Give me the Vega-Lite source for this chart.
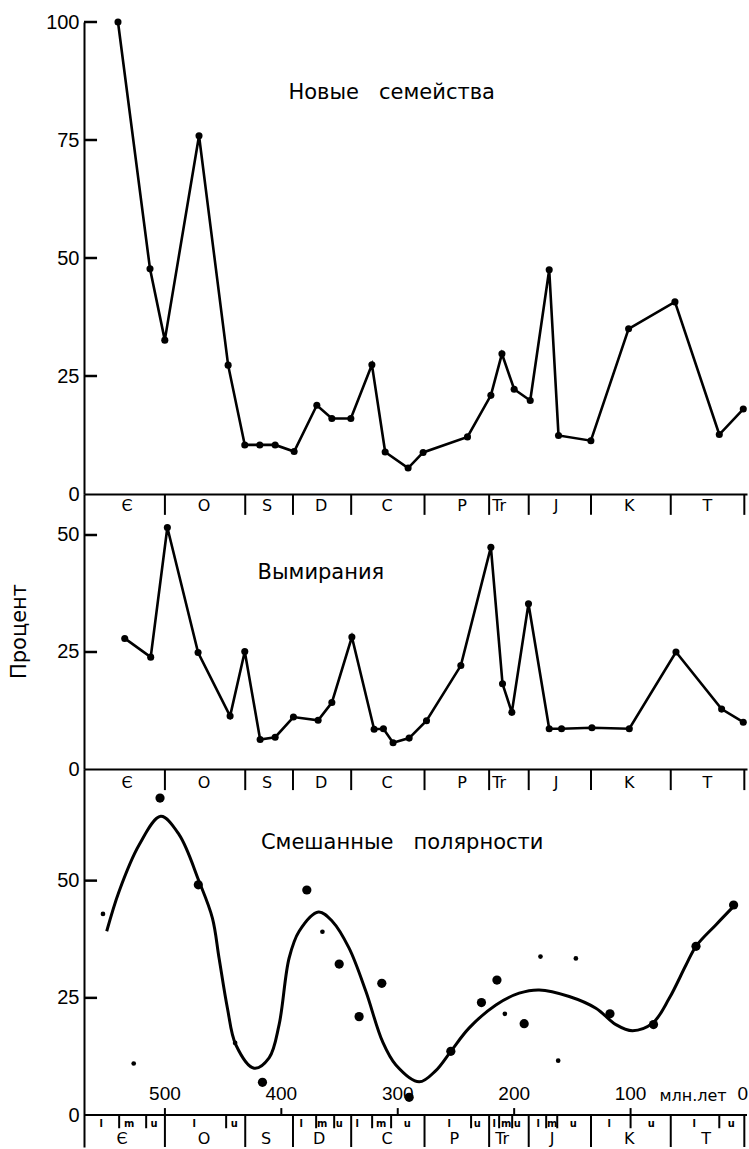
{
  "$schema": "https://vega.github.io/schema/vega-lite/v6.json",
  "padding": {"left": 8, "top": 12, "right": 0, "bottom": 0},
  "spacing": 0,
  "bounds": "flush",
  "resolve": {"scale": {"y": "independent"}},
  "config": {
    "view": {"stroke": null},
    "font": "DejaVu Sans",
    "axis": {
      "grid": false,
      "ticks": false,
      "domainColor": "black",
      "domainWidth": 2,
      "labelColor": "black",
      "labelFont": "Liberation Sans",
      "labelFontSize": 20,
      "labelPadding": 5,
      "titleColor": "black",
      "titleFont": "DejaVu Sans",
      "titleFontSize": 21,
      "titleFontWeight": "normal"
    },
    "text": {"color": "black"}
  },
  "datasets": {
    "origination": [
      {"ma": 540.3, "pct": 100}, {"ma": 512.8, "pct": 47.7}, {"ma": 500.1, "pct": 32.6},
      {"ma": 470.7, "pct": 75.9}, {"ma": 445.7, "pct": 27.3}, {"ma": 431.4, "pct": 10.4},
      {"ma": 418.5, "pct": 10.4}, {"ma": 405.3, "pct": 10.4}, {"ma": 389.0, "pct": 9.0},
      {"ma": 369.5, "pct": 18.8}, {"ma": 356.6, "pct": 16.0}, {"ma": 340.3, "pct": 16.0},
      {"ma": 322.2, "pct": 27.4}, {"ma": 310.8, "pct": 8.9}, {"ma": 291.1, "pct": 5.5},
      {"ma": 278.2, "pct": 8.8}, {"ma": 240.1, "pct": 12.1}, {"ma": 220.0, "pct": 20.9},
      {"ma": 210.5, "pct": 29.7}, {"ma": 200.0, "pct": 22.2}, {"ma": 186.2, "pct": 19.8},
      {"ma": 169.9, "pct": 47.5}, {"ma": 161.9, "pct": 12.4}, {"ma": 134.1, "pct": 11.3},
      {"ma": 101.7, "pct": 35.0}, {"ma": 61.9, "pct": 40.7}, {"ma": 23.8, "pct": 12.6},
      {"ma": 3.2, "pct": 18.0}
    ],
    "extinction": [
      {"ma": 534.5, "pct": 27.9}, {"ma": 512.2, "pct": 23.9}, {"ma": 497.9, "pct": 51.6},
      {"ma": 471.5, "pct": 24.9}, {"ma": 444.0, "pct": 11.3}, {"ma": 431.4, "pct": 25.1},
      {"ma": 418.2, "pct": 6.3}, {"ma": 405.3, "pct": 6.8}, {"ma": 389.6, "pct": 11.1},
      {"ma": 368.4, "pct": 10.4}, {"ma": 356.6, "pct": 14.2}, {"ma": 339.4, "pct": 28.2},
      {"ma": 320.3, "pct": 8.5}, {"ma": 312.3, "pct": 8.6}, {"ma": 304.0, "pct": 5.6},
      {"ma": 290.2, "pct": 6.6}, {"ma": 275.3, "pct": 10.3}, {"ma": 245.8, "pct": 22.1},
      {"ma": 220.0, "pct": 47.4}, {"ma": 210.0, "pct": 18.2}, {"ma": 202.0, "pct": 12.1},
      {"ma": 187.7, "pct": 35.3}, {"ma": 169.9, "pct": 8.6}, {"ma": 159.3, "pct": 8.6},
      {"ma": 133.2, "pct": 8.8}, {"ma": 101.1, "pct": 8.6}, {"ma": 61.0, "pct": 25.0},
      {"ma": 21.8, "pct": 12.8}, {"ma": 3.2, "pct": 10.0}
    ],
    "mixed": [
      {"ma": 553.2, "pct": 42.9, "weight": "minor"}, {"ma": 526.8, "pct": 11.0, "weight": "minor"},
      {"ma": 504.2, "pct": 67.6, "weight": "major"}, {"ma": 471.3, "pct": 49.1, "weight": "major"},
      {"ma": 439.7, "pct": 15.4, "weight": "minor"}, {"ma": 416.2, "pct": 7.0, "weight": "major"},
      {"ma": 378.1, "pct": 48.0, "weight": "major"}, {"ma": 364.7, "pct": 39.1, "weight": "minor"},
      {"ma": 350.3, "pct": 32.2, "weight": "major"}, {"ma": 333.2, "pct": 21.0, "weight": "major"},
      {"ma": 313.7, "pct": 28.1, "weight": "major"}, {"ma": 290.2, "pct": 3.8, "weight": "major"},
      {"ma": 254.4, "pct": 13.6, "weight": "major"}, {"ma": 228.1, "pct": 24.0, "weight": "major"},
      {"ma": 214.8, "pct": 28.8, "weight": "major"}, {"ma": 208.0, "pct": 21.6, "weight": "minor"},
      {"ma": 191.4, "pct": 19.5, "weight": "major"}, {"ma": 177.4, "pct": 33.8, "weight": "minor"},
      {"ma": 162.2, "pct": 11.6, "weight": "minor"}, {"ma": 147.0, "pct": 33.4, "weight": "minor"},
      {"ma": 117.7, "pct": 21.6, "weight": "major"}, {"ma": 80.3, "pct": 19.3, "weight": "major"},
      {"ma": 43.8, "pct": 36.0, "weight": "major"}, {"ma": 11.5, "pct": 44.8, "weight": "major"}
    ],
    "mixedTrend": [
      {"ma": 550.0, "pct": 39.2}, {"ma": 539.4, "pct": 47.7}, {"ma": 522.2, "pct": 57.6},
      {"ma": 503.6, "pct": 63.7}, {"ma": 487.8, "pct": 59.8}, {"ma": 470.6, "pct": 49.8},
      {"ma": 459.2, "pct": 42.0}, {"ma": 453.5, "pct": 33.5}, {"ma": 446.3, "pct": 22.8},
      {"ma": 439.1, "pct": 15.0}, {"ma": 423.4, "pct": 10.0}, {"ma": 410.5, "pct": 12.2},
      {"ma": 401.9, "pct": 19.3}, {"ma": 393.3, "pct": 33.5}, {"ma": 384.7, "pct": 39.2},
      {"ma": 368.1, "pct": 43.3}, {"ma": 356.1, "pct": 41.3}, {"ma": 341.8, "pct": 35.6},
      {"ma": 327.4, "pct": 26.4}, {"ma": 313.1, "pct": 15.7}, {"ma": 301.6, "pct": 10.7},
      {"ma": 281.6, "pct": 7.1}, {"ma": 267.3, "pct": 9.5}, {"ma": 254.4, "pct": 13.6},
      {"ma": 238.6, "pct": 18.6}, {"ma": 215.7, "pct": 23.5}, {"ma": 195.7, "pct": 26.0},
      {"ma": 178.5, "pct": 26.7}, {"ma": 152.7, "pct": 25.3}, {"ma": 129.8, "pct": 22.8},
      {"ma": 112.6, "pct": 19.3}, {"ma": 98.3, "pct": 18.0}, {"ma": 81.1, "pct": 19.6},
      {"ma": 66.8, "pct": 24.9}, {"ma": 52.4, "pct": 32.0}, {"ma": 43.8, "pct": 36.0},
      {"ma": 26.6, "pct": 40.6}, {"ma": 11.5, "pct": 44.5}
    ],
    "periods": [
      {"name": "Є", "at": 532.5, "atLow": 536.8}, {"name": "O", "at": 466.3, "atLow": 466.3},
      {"name": "S", "at": 412.2, "atLow": 413.0}, {"name": "D", "at": 365.8, "atLow": 367.5},
      {"name": "C", "at": 309.1, "atLow": 309.1}, {"name": "P", "at": 244.7, "atLow": 251.5},
      {"name": "Tr", "at": 212.9, "atLow": 210.3}, {"name": "J", "at": 163.9, "atLow": 167.3},
      {"name": "K", "at": 101.1, "atLow": 101.1}, {"name": "T", "at": 34.1, "atLow": 35.0}
    ],
    "boundaries": [
      {"ma": 500}, {"ma": 431}, {"ma": 390}, {"ma": 340}, {"ma": 277},
      {"ma": 221.5}, {"ma": 187.5}, {"ma": 134}, {"ma": 65.5}, {"ma": 2.3}
    ],
    "epochs": [
      {"name": "l", "ma": 554.8}, {"name": "m", "ma": 530.8}, {"name": "u", "ma": 509.3},
      {"name": "l", "ma": 474.9}, {"name": "u", "ma": 440.5},
      {"name": "l", "ma": 383.0}, {"name": "m", "ma": 364.9}, {"name": "u", "ma": 350.3},
      {"name": "l", "ma": 334.8}, {"name": "m", "ma": 314.2}, {"name": "u", "ma": 291.8},
      {"name": "l", "ma": 255.8}, {"name": "u", "ma": 231.7},
      {"name": "l", "ma": 217.2}, {"name": "m", "ma": 206.8}, {"name": "u", "ma": 197.4},
      {"name": "l", "ma": 179.3}, {"name": "m", "ma": 167.3}, {"name": "u", "ma": 149.3},
      {"name": "l", "ma": 118.3}, {"name": "u", "ma": 82.2},
      {"name": "l", "ma": 45.3}, {"name": "u", "ma": 13.6}
    ],
    "epochBreaks": [
      {"ma": 539.3}, {"ma": 516.1}, {"ma": 447.4}, {"ma": 370.1}, {"ma": 354.6},
      {"ma": 322.0}, {"ma": 305.7}, {"ma": 237.0}, {"ma": 212.9}, {"ma": 201.7},
      {"ma": 172.5}, {"ma": 163.0}, {"ma": 100.0}, {"ma": 23.8}
    ],
    "ages": [
      {"ma": 500, "label": "500"}, {"ma": 400, "label": "400"}, {"ma": 300, "label": "300"},
      {"ma": 200, "label": "200"}, {"ma": 100, "label": "100"}
    ],
    "ticksTop": [{"v": 25}, {"v": 50}, {"v": 75}, {"v": 100}],
    "ticksLow": [{"v": 25}, {"v": 50}]
  },
  "vconcat": [
    {
      "width": 663,
      "height": 472,
      "layer": [
        {
          "data": {"name": "origination"},
          "mark": {"type": "line", "color": "black", "strokeWidth": 2.6},
          "encoding": {
            "x": {"field": "ma", "type": "quantitative", "scale": {"domain": [0, 569.5], "reverse": true},
                  "axis": {"title": null, "labels": false, "domainWidth": 2}},
            "y": {"field": "pct", "type": "quantitative", "scale": {"domain": [0, 100]},
                  "axis": {"title": null, "values": [0, 25, 50, 75, 100]}}
          }
        },
        {
          "data": {"name": "ticksTop"},
          "mark": {"type": "rule", "color": "black", "strokeWidth": 2.5},
          "encoding": {
            "x": {"datum": 569.5, "type": "quantitative", "scale": {"domain": [0, 569.5], "reverse": true}},
            "x2": {"datum": 558.3},
            "y": {"field": "v", "type": "quantitative", "scale": {"domain": [0, 100]}}
          }
        },
        {
          "data": {"name": "origination"},
          "mark": {"type": "circle", "color": "black", "size": 50, "opacity": 1},
          "encoding": {
            "x": {"field": "ma", "type": "quantitative", "scale": {"domain": [0, 569.5], "reverse": true}},
            "y": {"field": "pct", "type": "quantitative", "scale": {"domain": [0, 100]}}
          }
        },
        {
          "data": {"values": [{}]},
          "mark": {"type": "text", "font": "DejaVu Sans", "fontSize": 21, "align": "center", "baseline": "middle"},
          "encoding": {
            "x": {"datum": 305.2, "type": "quantitative", "scale": {"domain": [0, 569.5], "reverse": true}},
            "y": {"datum": 85, "type": "quantitative", "scale": {"domain": [0, 100]}},
            "text": {"value": "Новые\u00a0\u00a0\u00a0семейства"}
          }
        }
      ]
    },
    {
      "width": 663,
      "height": 275,
      "layer": [
        {
          "data": {"name": "extinction"},
          "mark": {"type": "line", "color": "black", "strokeWidth": 2.6},
          "encoding": {
            "x": {"field": "ma", "type": "quantitative", "scale": {"domain": [0, 569.5], "reverse": true},
                  "axis": {"title": null, "labels": false, "domainWidth": 2}},
            "y": {"field": "pct", "type": "quantitative", "scale": {"domain": [0, 58.76]},
                  "axis": {"title": "Процент", "values": [0, 25, 50],
                           "titleX": -65, "titleY": 137, "titleBaseline": "middle", "titleAngle": -90}}
          }
        },
        {
          "data": {"name": "ticksLow"},
          "mark": {"type": "rule", "color": "black", "strokeWidth": 2.5},
          "encoding": {
            "x": {"datum": 569.5, "type": "quantitative", "scale": {"domain": [0, 569.5], "reverse": true}},
            "x2": {"datum": 558.3},
            "y": {"field": "v", "type": "quantitative", "scale": {"domain": [0, 58.76]}}
          }
        },
        {
          "data": {"name": "extinction"},
          "mark": {"type": "circle", "color": "black", "size": 50, "opacity": 1},
          "encoding": {
            "x": {"field": "ma", "type": "quantitative", "scale": {"domain": [0, 569.5], "reverse": true}},
            "y": {"field": "pct", "type": "quantitative", "scale": {"domain": [0, 58.76]}}
          }
        },
        {
          "data": {"values": [{}]},
          "mark": {"type": "text", "font": "DejaVu Sans", "fontSize": 21, "align": "center", "baseline": "middle"},
          "encoding": {
            "x": {"datum": 366, "type": "quantitative", "scale": {"domain": [0, 569.5], "reverse": true}},
            "y": {"datum": 41.9, "type": "quantitative", "scale": {"domain": [0, 58.76]}},
            "text": {"value": "Вымирания"}
          }
        },
        {
          "data": {"name": "boundaries"},
          "mark": {"type": "rule", "color": "black", "strokeWidth": 2},
          "encoding": {
            "x": {"field": "ma", "type": "quantitative", "scale": {"domain": [0, 569.5], "reverse": true}},
            "y": {"datum": 58.76, "type": "quantitative", "scale": {"domain": [0, 58.76]}},
            "y2": {"datum": 54.3}
          }
        },
        {
          "data": {"name": "periods"},
          "mark": {"type": "text", "font": "DejaVu Sans", "fontSize": 16, "align": "center", "baseline": "middle"},
          "encoding": {
            "x": {"field": "at", "type": "quantitative", "scale": {"domain": [0, 569.5], "reverse": true}},
            "y": {"datum": 56.2, "type": "quantitative", "scale": {"domain": [0, 58.76]}},
            "text": {"field": "name"}
          }
        }
      ]
    },
    {
      "width": 663,
      "height": 378,
      "layer": [
        {
          "data": {"name": "mixedTrend"},
          "mark": {"type": "line", "color": "black", "strokeWidth": 3, "interpolate": "catmull-rom"},
          "encoding": {
            "x": {"field": "ma", "type": "quantitative", "scale": {"domain": [0, 569.5], "reverse": true}, "axis": null},
            "y": {"field": "pct", "type": "quantitative", "scale": {"domain": [-6.8, 73.8]},
                  "axis": {"title": null, "values": [0, 25, 50]}}
          }
        },
        {
          "data": {"name": "ticksLow"},
          "mark": {"type": "rule", "color": "black", "strokeWidth": 2.5},
          "encoding": {
            "x": {"datum": 569.5, "type": "quantitative", "scale": {"domain": [0, 569.5], "reverse": true}},
            "x2": {"datum": 558.3},
            "y": {"field": "v", "type": "quantitative", "scale": {"domain": [-6.8, 73.8]}}
          }
        },
        {
          "data": {"name": "mixed"},
          "mark": {"type": "circle", "color": "black", "opacity": 1},
          "encoding": {
            "x": {"field": "ma", "type": "quantitative", "scale": {"domain": [0, 569.5], "reverse": true}},
            "y": {"field": "pct", "type": "quantitative", "scale": {"domain": [-6.8, 73.8]}},
            "size": {"field": "weight", "type": "nominal", "scale": {"domain": ["major", "minor"], "range": [85, 22]}, "legend": null}
          }
        },
        {
          "data": {"values": [{}]},
          "mark": {"type": "text", "font": "DejaVu Sans", "fontSize": 21, "align": "center", "baseline": "middle"},
          "encoding": {
            "x": {"datum": 296.2, "type": "quantitative", "scale": {"domain": [0, 569.5], "reverse": true}},
            "y": {"datum": 58.0, "type": "quantitative", "scale": {"domain": [-6.8, 73.8]}},
            "text": {"value": "Смешанные\u00a0\u00a0\u00a0полярности"}
          }
        },
        {
          "data": {"name": "boundaries"},
          "mark": {"type": "rule", "color": "black", "strokeWidth": 2},
          "encoding": {
            "x": {"field": "ma", "type": "quantitative", "scale": {"domain": [0, 569.5], "reverse": true}},
            "y": {"datum": 73.8, "type": "quantitative", "scale": {"domain": [-6.8, 73.8]}},
            "y2": {"datum": 69.3}
          }
        },
        {
          "data": {"name": "periods"},
          "mark": {"type": "text", "font": "DejaVu Sans", "fontSize": 16, "align": "center", "baseline": "middle"},
          "encoding": {
            "x": {"field": "at", "type": "quantitative", "scale": {"domain": [0, 569.5], "reverse": true}},
            "y": {"datum": 70.8, "type": "quantitative", "scale": {"domain": [-6.8, 73.8]}},
            "text": {"field": "name"}
          }
        },
        {
          "data": {"values": [{}]},
          "mark": {"type": "rule", "color": "black", "strokeWidth": 2},
          "encoding": {
            "x": {"datum": 569.5, "type": "quantitative", "scale": {"domain": [0, 569.5], "reverse": true}},
            "x2": {"datum": 0},
            "y": {"datum": 0, "type": "quantitative", "scale": {"domain": [-6.8, 73.8]}}
          }
        },
        {
          "data": {"name": "ages"},
          "mark": {"type": "rule", "color": "black", "strokeWidth": 2},
          "encoding": {
            "x": {"field": "ma", "type": "quantitative", "scale": {"domain": [0, 569.5], "reverse": true}},
            "y": {"datum": 1.5, "type": "quantitative", "scale": {"domain": [-6.8, 73.8]}},
            "y2": {"datum": 0}
          }
        },
        {
          "data": {"name": "ages"},
          "mark": {"type": "text", "font": "Liberation Sans", "fontSize": 19, "align": "center", "baseline": "bottom"},
          "encoding": {
            "x": {"field": "ma", "type": "quantitative", "scale": {"domain": [0, 569.5], "reverse": true}},
            "y": {"datum": 2.4, "type": "quantitative", "scale": {"domain": [-6.8, 73.8]}},
            "text": {"field": "label"}
          }
        },
        {
          "data": {"values": [{}]},
          "mark": {"type": "text", "font": "Liberation Sans", "fontSize": 19, "align": "right", "baseline": "bottom", "dx": 1},
          "encoding": {
            "x": {"datum": 0, "type": "quantitative", "scale": {"domain": [0, 569.5], "reverse": true}},
            "y": {"datum": 2.4, "type": "quantitative", "scale": {"domain": [-6.8, 73.8]}},
            "text": {"value": "0"}
          }
        },
        {
          "data": {"values": [{}]},
          "mark": {"type": "text", "font": "DejaVu Sans", "fontSize": 16, "align": "left", "baseline": "bottom"},
          "encoding": {
            "x": {"datum": 75.2, "type": "quantitative", "scale": {"domain": [0, 569.5], "reverse": true}},
            "y": {"datum": 2.4, "type": "quantitative", "scale": {"domain": [-6.8, 73.8]}},
            "text": {"value": "млн.лет"}
          }
        },
        {
          "data": {"name": "boundaries"},
          "mark": {"type": "rule", "color": "black", "strokeWidth": 2},
          "encoding": {
            "x": {"field": "ma", "type": "quantitative", "scale": {"domain": [0, 569.5], "reverse": true}},
            "y": {"datum": 0, "type": "quantitative", "scale": {"domain": [-6.8, 73.8]}},
            "y2": {"datum": -6.8}
          }
        },
        {
          "data": {"name": "epochBreaks"},
          "mark": {"type": "rule", "color": "black", "strokeWidth": 2},
          "encoding": {
            "x": {"field": "ma", "type": "quantitative", "scale": {"domain": [0, 569.5], "reverse": true}},
            "y": {"datum": 0, "type": "quantitative", "scale": {"domain": [-6.8, 73.8]}},
            "y2": {"datum": -2.8}
          }
        },
        {
          "data": {"name": "epochs"},
          "mark": {"type": "text", "font": "DejaVu Sans Condensed", "fontSize": 11, "fontWeight": "bold", "align": "center", "baseline": "middle"},
          "encoding": {
            "x": {"field": "ma", "type": "quantitative", "scale": {"domain": [0, 569.5], "reverse": true}},
            "y": {"datum": -1.8, "type": "quantitative", "scale": {"domain": [-6.8, 73.8]}},
            "text": {"field": "name"}
          }
        },
        {
          "data": {"name": "periods"},
          "mark": {"type": "text", "font": "DejaVu Sans", "fontSize": 16, "align": "center", "baseline": "middle"},
          "encoding": {
            "x": {"field": "atLow", "type": "quantitative", "scale": {"domain": [0, 569.5], "reverse": true}},
            "y": {"datum": -5.2, "type": "quantitative", "scale": {"domain": [-6.8, 73.8]}},
            "text": {"field": "name"}
          }
        }
      ]
    }
  ]
}
